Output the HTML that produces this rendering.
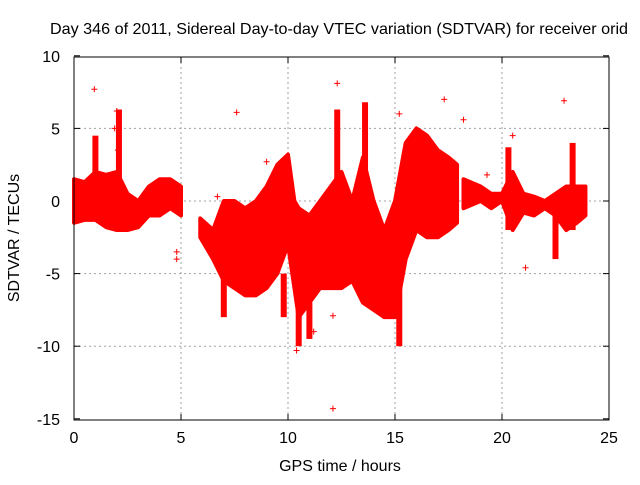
<!DOCTYPE html>
<html><head><meta charset="utf-8"><style>
body{margin:0;background:#fff}
svg text{font-family:"Liberation Sans",sans-serif;font-size:16px;fill:#000}
</style></head><body>
<svg id="c" width="640" height="480">
<rect width="640" height="480" fill="#fff"/>
<text x="50" y="34" textLength="578" lengthAdjust="spacingAndGlyphs">Day 346 of 2011, Sidereal Day-to-day VTEC variation (SDTVAR) for receiver orid</text>
<text x="340" y="471" text-anchor="middle">GPS time / hours</text>
<text transform="translate(19,238) rotate(-90)" text-anchor="middle">SDTVAR / TECUs</text>
<g id="grid"></g><g id="data"></g>
<rect x="74" y="57" width="535" height="363" fill="none" stroke="#000"/>
</svg>
<script>
const xTicks=[0,5,10,15,20,25];
const yTicks=[10,5,0,-5,-10,-15];
const segTime=[[0,0.5,1,1.5,2,2.5,3,3.5,4,4.5,5],[5.9,6.5,7,7.5,8,8.5,9,9.5,10,10.3,10.5,11,11.5,12,12.5,13,13.5,14,14.5,15,15.5,16,16.5,17,17.5,17.9],[18.2,19,19.5,20,20.5,21,21.5,22,22.5,23,23.5,23.9]];
const segUpper=[[1.5,1.3,2,1.8,2,0.5,0,1,1.5,1.5,1],[-1.2,-2,0,0,-0.5,0,1,2.5,3.2,0,-0.5,-1,0,1,2,0,3,0,-2,0,4,5,4.5,3.5,3,2.5],[1.5,1,0.5,0.5,2,0.5,0.3,0,0.5,1,1,1]];
const segLower=[[-1.5,-1.3,-1.3,-1.8,-2,-2,-1.8,-1,-1,-0.5,-1],[-2.5,-4,-5.5,-6,-6.5,-6.5,-6,-5,-3,-6,-8,-7,-6,-6,-6,-5.5,-7,-7.5,-8,-8,-4,-2,-2.5,-2.5,-2,-1.5],[-0.5,0,-0.5,0,-2,-0.8,-1,-0.5,-1,-2,-1.5,-1]];
const spikeX=[1,2.1,12.3,13.6,15.2,10.5,7,20.3,22.5,23.3,11,9.8];
const spikeMin=[-1,0,-2,-6,-10,-10,-8,-2,-4,-2,-9.5,-8];
const spikeMax=[4.5,6.3,6.3,6.8,-4,-6,-5,3.7,-1,4,-7,-5];
const ptX=[0.95,1.9,2,7.6,9,6.7,4.8,4.8,12.3,12.1,12.1,10.4,15.2,17.3,18.2,19.3,20.5,21.1,22.9,2.05,11.2];
const ptY=[7.7,5,6.2,6.1,2.7,0.3,-3.5,-4,8.1,-14.3,-7.9,-10.3,6,7,5.6,1.8,4.5,-4.6,6.9,3.5,-9];
const X=v=>74+v*535/25, Y=v=>201-v*72.6/5;
const NS='http://www.w3.org/2000/svg';
const mk=(t,a,p)=>{const e=document.createElementNS(NS,t);for(const k in a)e.setAttribute(k,a[k]);p.appendChild(e);return e;};
const g=document.getElementById('grid'),d=document.getElementById('data');
xTicks.forEach(v=>{
  if(v>0&&v<25){const l=mk('line',{x1:X(v),x2:X(v),y1:57,y2:420,stroke:'#a0a0a0','stroke-dasharray':'2,3'},g);
  
  }
  mk('line',{x1:X(v),x2:X(v),y1:420,y2:414,stroke:'#000'},g);mk('line',{x1:X(v),x2:X(v),y1:57,y2:63,stroke:'#000'},g);
  const t=mk('text',{x:X(v),y:443,'text-anchor':'middle'},g);t.textContent=v;
  
  
});
yTicks.forEach(v=>{
  if(v<10&&v>-15){const l=mk('line',{x1:74,x2:609,y1:Y(v),y2:Y(v),stroke:'#a0a0a0','stroke-dasharray':'2,3'},g);
  
  }
  mk('line',{x1:74,x2:80,y1:Y(v),y2:Y(v),stroke:'#000'},g);mk('line',{x1:603,x2:609,y1:Y(v),y2:Y(v),stroke:'#000'},g);
  const t=mk('text',{x:60,y:Y(v)+6,'text-anchor':'end'},g);t.textContent=v;
  
  
});
segTime.forEach((ts,i)=>{
  let p=ts.map((t,j)=>X(t)+','+Y(segUpper[i][j]));
  for(let j=ts.length-1;j>=0;j--)p.push(X(ts[j])+','+Y(segLower[i][j]));
  const e=mk('polygon',{points:p.join(' '),fill:'#ff0000',stroke:'#ff0000','stroke-width':4,'stroke-linejoin':'round'},d);
  
  
});
spikeX.forEach((x,i)=>{
  const e=mk('rect',{x:X(x)-3,y:Y(spikeMax[i]),width:6,height:Y(spikeMin[i])-Y(spikeMax[i]),fill:'#ff0000'},d);
  
  
});
ptX.forEach((x,i)=>{
  const cx=X(x),cy=Y(ptY[i]);
  const e=mk('path',{d:`M${cx-3},${cy}H${cx+3}M${cx},${cy-3}V${cy+3}`,stroke:'#ff0000','stroke-width':1},d);
  
  
});
</script>
</body></html>
